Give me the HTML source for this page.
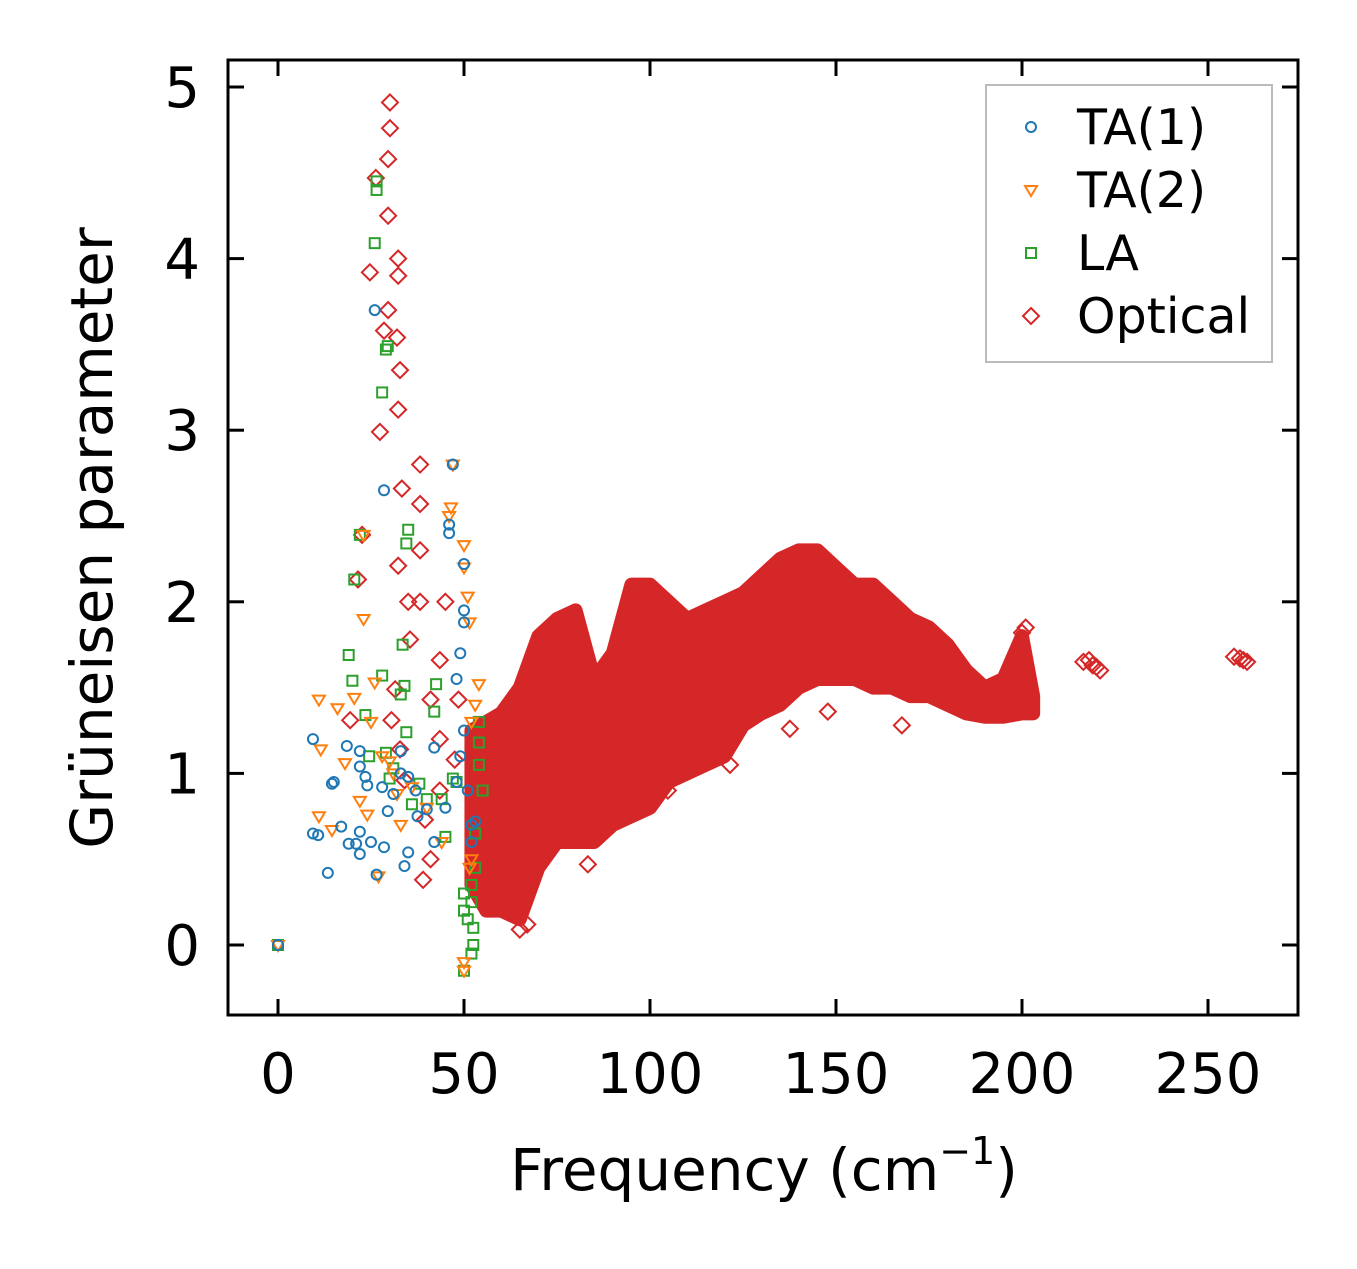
<!DOCTYPE html>
<html><head><meta charset="utf-8">
<style>
body{margin:0;background:#fff;}
svg text{font-family:"DejaVu Sans","Liberation Sans",sans-serif;fill:#000;}
</style></head>
<body>
<svg id="chart" width="1357" height="1264" viewBox="0 0 1357 1264" xmlns="http://www.w3.org/2000/svg">
<g id="marks"></g>
<rect x="228" y="60" width="1070" height="955" fill="none" stroke="#000" stroke-width="3"/>
<g id="axes"></g>
<text x="764" y="1190" font-size="58" text-anchor="middle">Frequency (cm<tspan font-size="38" dy="-26">−1</tspan><tspan dy="26">)</tspan></text>
<text transform="translate(112,538) rotate(-90)" font-size="58" text-anchor="middle">Grüneisen parameter</text>
<g>
<rect x="986" y="85" width="286" height="277" fill="#fff" stroke="#bbb" stroke-width="2"/>
<circle cx="1031" cy="127" r="5" fill="none" stroke="#1f77b4" stroke-width="2"/>
<text x="1077" y="144" font-size="49">TA(1)</text>
<path d="M1025,186 L1037,186 L1031,196 Z" fill="none" stroke="#ff7f0e" stroke-width="2"/>
<text x="1077" y="207" font-size="49">TA(2)</text>
<rect x="1026" y="248" width="10" height="10" fill="none" stroke="#2ca02c" stroke-width="2"/>
<text x="1077" y="270" font-size="49">LA</text>
<path d="M1031,308 L1039,316 L1031,324 L1023,316 Z" fill="none" stroke="#d62728" stroke-width="2"/>
<text x="1077" y="333" font-size="49">Optical</text>
</g>
</svg>
<script>
const xTicks=[0,50,100,150,200,250];
const yTicks=[0,1,2,3,4,5];
// dense optical band envelope
const bandFreq=[52,56,60,65,70,75,80,85,90,95,100,105,110,115,120,125,130,135,140,145,150,155,160,165,170,175,180,185,190,195,200,203];
const bandUpper=[1.25,1.3,1.35,1.5,1.8,1.9,1.95,1.55,1.7,2.1,2.1,2.0,1.9,1.95,2.0,2.05,2.15,2.25,2.3,2.3,2.2,2.1,2.1,2.0,1.9,1.85,1.75,1.6,1.5,1.55,1.8,1.45];
const bandLower=[0.35,0.2,0.2,0.15,0.45,0.6,0.6,0.6,0.7,0.75,0.8,0.95,1.0,1.05,1.1,1.28,1.35,1.4,1.5,1.55,1.55,1.55,1.5,1.5,1.45,1.45,1.4,1.35,1.33,1.33,1.35,1.35];
const optFreq=[30.1,30.1,29.6,26.3,29.6,32.3,24.7,32.3,29.6,28.5,32,32.8,32.3,27.4,33.3,38.2,38.2,32.3,38.2,35,38.2,45,35.5,43.5,31.5,41,30.5,32.8,34,39.5,41,39,43.5,47.5,48.5,43.5,19.4,21.5,22.6,216.5,218,219,220,221,257,258.6,259.5,260.5,104.8,121.5,167.7,147.8,137.6,83.9,83.3,65,67,200,201];
const optGamma=[4.91,4.76,4.58,4.47,4.25,4.0,3.92,3.9,3.7,3.58,3.54,3.35,3.12,2.99,2.66,2.8,2.57,2.21,2.3,2.0,2.0,2.0,1.78,1.66,1.49,1.43,1.31,1.14,0.96,0.73,0.5,0.38,0.9,1.08,1.43,1.2,1.31,2.13,2.39,1.65,1.66,1.63,1.62,1.6,1.68,1.67,1.66,1.65,0.9,1.05,1.28,1.36,1.26,0.67,0.47,0.09,0.12,1.82,1.85];
const ta1Freq=[0,9.4,9.4,10.8,13.4,14.5,15,17,18.5,19,21,22,22,22,22,23.5,24,25,26,26.5,28,28.5,28.5,29.5,31,33,33,34,35,35,37,37.5,40,42,42,45,46,46,47,48,49,50,50,50,50,51,52,52,53,49,48];
const ta1Gamma=[0,1.2,0.65,0.64,0.42,0.94,0.95,0.69,1.16,0.59,0.59,1.13,1.04,0.66,0.53,0.98,0.93,0.6,3.7,0.41,0.92,2.65,0.57,0.78,0.88,1.13,1.0,0.46,0.54,0.98,0.9,0.75,0.79,1.15,0.6,0.8,2.4,2.45,2.8,1.55,1.7,1.95,2.22,1.88,1.25,0.9,0.7,0.6,0.72,1.1,0.95];
const ta2Freq=[0,11,11.5,11,14.5,16,18,20.5,22,23,23,24,25,26,27,28,30,31,32,33,36,40,44,46,46.5,47,50,50,51,51.5,54,53,52,52,51.5,50,50];
const ta2Gamma=[0,1.43,1.14,0.75,0.67,1.38,1.06,1.44,0.84,1.9,2.39,0.76,1.3,1.53,0.4,1.1,1.07,1.0,0.88,0.7,0.92,0.8,0.6,2.5,2.55,2.8,2.33,2.2,2.03,1.88,1.52,1.4,1.3,0.5,0.45,-0.1,-0.15];
const laFreq=[0,19,20,20.5,22,23.5,24.5,26,26.5,26.5,28,28,29,29.5,29,30,31,33,33.5,34,34.5,35,34.5,36,38,40,42,42.5,44,45,47,48,50,50,51,52,52,52.5,52.5,52,50,53,54,54,54,55,53];
const laGamma=[0,1.69,1.54,2.13,2.39,1.34,1.1,4.09,4.45,4.4,1.57,3.22,3.47,3.49,1.12,0.97,1.03,1.46,1.75,1.51,2.34,2.42,1.24,0.82,0.94,0.85,1.36,1.52,0.85,0.63,0.97,0.95,0.2,0.3,0.15,0.35,0.25,0.1,0,-0.05,-0.15,0.45,1.05,1.18,1.3,0.9,0.65];

const X=f=>278+f*3.72;
const Y=g=>945-g*171.6;
const NS="http://www.w3.org/2000/svg";
const marks=document.getElementById('marks');
const axes=document.getElementById('axes');
function mk(tag,attrs,parent){const e=document.createElementNS(NS,tag);for(const k in attrs)e.setAttribute(k,attrs[k]);parent.appendChild(e);return e;}

let pts=[];
bandFreq.forEach((f,i)=>pts.push(X(f)+','+Y(bandUpper[i])));
for(let i=bandFreq.length-1;i>=0;i--)pts.push(X(bandFreq[i])+','+Y(bandLower[i]));
const band=mk('polygon',{points:pts.join(' '),fill:'#d62728',stroke:'#d62728','stroke-width':14,'stroke-linejoin':'round'},marks);



optFreq.forEach((f,i)=>{const x=X(f),y=Y(optGamma[i]);
const e=mk('path',{d:`M${x},${y-8} L${x+8},${y} L${x},${y+8} L${x-8},${y} Z`,fill:'none',stroke:'#d62728','stroke-width':2},marks);

});
laFreq.forEach((f,i)=>{const x=X(f),y=Y(laGamma[i]);
const e=mk('rect',{x:x-5,y:y-5,width:10,height:10,fill:'none',stroke:'#2ca02c','stroke-width':2},marks);

});
ta2Freq.forEach((f,i)=>{const x=X(f),y=Y(ta2Gamma[i]);
const e=mk('path',{d:`M${x-6},${y-4} L${x+6},${y-4} L${x},${y+6} Z`,fill:'none',stroke:'#ff7f0e','stroke-width':2},marks);

});
ta1Freq.forEach((f,i)=>{const x=X(f),y=Y(ta1Gamma[i]);
const e=mk('circle',{cx:x,cy:y,r:5,fill:'none',stroke:'#1f77b4','stroke-width':2},marks);

});

xTicks.forEach(t=>{const x=X(t);
const a=mk('line',{x1:x,x2:x,y1:1015,y2:999,stroke:'#000','stroke-width':3},axes);


const b=mk('line',{x1:x,x2:x,y1:60,y2:76,stroke:'#000','stroke-width':3},axes);


const l=mk('text',{x:x,y:1093,'font-size':56,'text-anchor':'middle'},axes);l.textContent=t;

});
yTicks.forEach(t=>{const y=Y(t);
const a=mk('line',{x1:228,x2:244,y1:y,y2:y,stroke:'#000','stroke-width':3},axes);


const b=mk('line',{x1:1298,x2:1282,y1:y,y2:y,stroke:'#000','stroke-width':3},axes);


const l=mk('text',{x:200,y:y+20,'font-size':56,'text-anchor':'end'},axes);l.textContent=t;

});
</script>
</body></html>
